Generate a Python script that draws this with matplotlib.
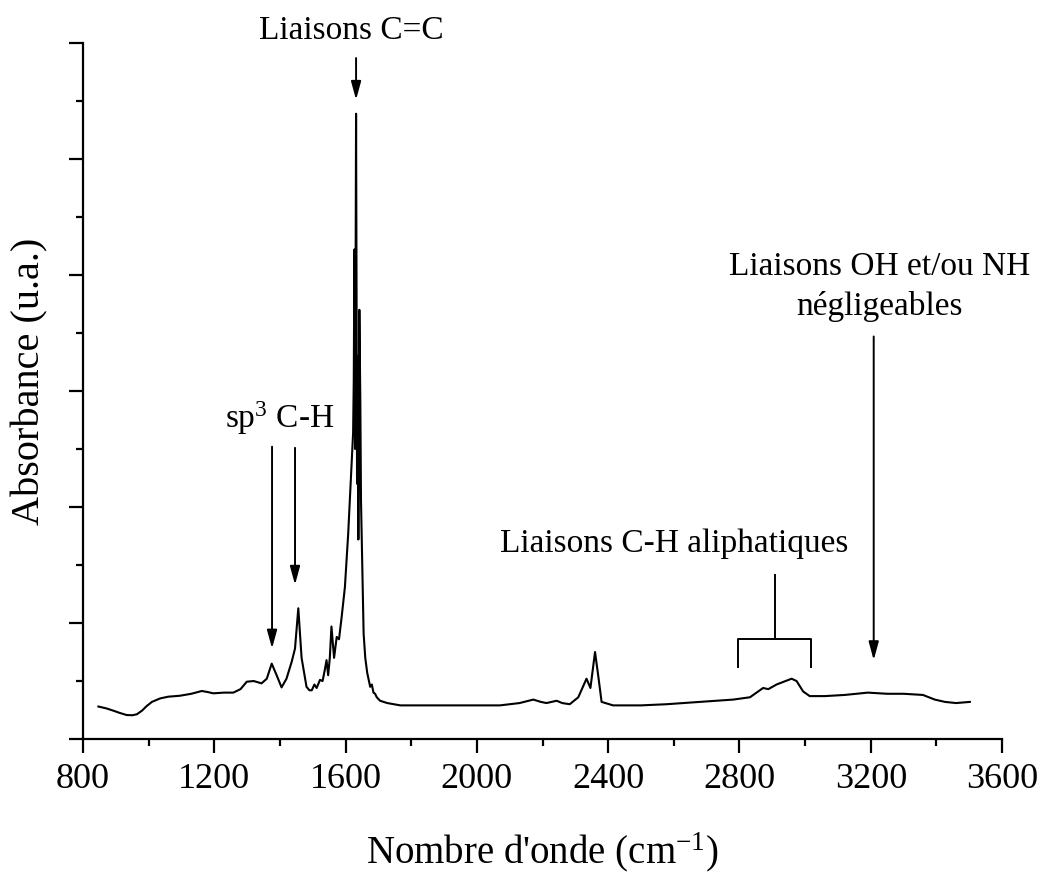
import matplotlib
matplotlib.use("Agg")
import matplotlib.pyplot as plt
from matplotlib.ticker import MultipleLocator, NullFormatter

plt.rcParams['font.family'] = ['Liberation Serif', 'DejaVu Serif']
plt.rcParams['mathtext.fontset'] = 'custom'
plt.rcParams['mathtext.rm'] = 'Liberation Serif'
plt.rcParams['mathtext.it'] = 'Liberation Serif:italic'
plt.rcParams['mathtext.bf'] = 'Liberation Serif:bold'

# Spectrum (wavenumber cm-1, absorbance a.u.)
wavenumber = [847, 870, 892, 912, 933, 950, 964, 980, 994, 1010, 1035, 1060, 1095,
              1130, 1162, 1180, 1197, 1230, 1258, 1280, 1299, 1320, 1344, 1360,
              1375, 1390, 1405, 1420, 1436, 1446, 1456, 1466, 1481, 1490, 1497,
              1505, 1512, 1522, 1530, 1537, 1542, 1547, 1552, 1557, 1565, 1573,
              1580, 1588, 1598, 1608, 1618, 1623, 1625, 1627, 1629, 1632, 1635,
              1637, 1639, 1642, 1645, 1647, 1651, 1655, 1660, 1666, 1675, 1680,
              1685, 1690, 1695, 1705, 1727, 1767, 1850, 1950, 2070, 2130, 2172,
              2195, 2212, 2243, 2260, 2283, 2309, 2334, 2346, 2360, 2370, 2380,
              2415, 2500, 2578, 2679, 2781, 2832, 2872, 2888, 2913, 2959, 2974,
              2994, 3014, 3060, 3121, 3191, 3250, 3300, 3359, 3395, 3426, 3460,
              3502]
absorbance = [0.28, 0.265, 0.245, 0.225, 0.207, 0.205, 0.213, 0.245, 0.284, 0.32,
              0.35, 0.365, 0.373, 0.39, 0.414, 0.405, 0.394, 0.40, 0.40, 0.43,
              0.494, 0.50, 0.48, 0.52, 0.65, 0.55, 0.445, 0.52, 0.667, 0.78,
              1.127, 0.70, 0.45, 0.42, 0.42, 0.47, 0.44, 0.51, 0.50, 0.60,
              0.68, 0.55, 0.70, 0.97, 0.70, 0.88, 0.86, 1.05, 1.31, 1.77,
              2.35, 2.64, 3.1, 4.22, 2.5, 5.39, 2.2, 3.3, 1.72, 3.70, 2.9,
              2.06, 1.48, 0.91, 0.70, 0.57, 0.45, 0.47, 0.40, 0.39, 0.36,
              0.33, 0.31, 0.29, 0.29, 0.29, 0.29, 0.31, 0.34, 0.32, 0.31,
              0.33, 0.31, 0.30, 0.36, 0.52, 0.44, 0.75, 0.54, 0.32, 0.29,
              0.29, 0.30, 0.32, 0.34, 0.36, 0.44, 0.43, 0.47, 0.52, 0.50,
              0.41, 0.37, 0.37, 0.38, 0.40, 0.39, 0.39, 0.38, 0.34, 0.32,
              0.31, 0.32]

x_ticks = [800, 1200, 1600, 2000, 2400, 2800, 3200, 3600]
x_tick_labels = ['800', '1200', '1600', '2000', '2400', '2800', '3200', '3600']

fig = plt.figure(figsize=(10.45, 8.75), dpi=100)
ax = fig.add_axes([0.0794, 0.1554, 0.8795, 0.7955])

ax.plot(wavenumber, absorbance, color='black', lw=1.5)

ax.set_xlim(800, 3600)
ax.set_ylim(0, 6)
ax.set_xticks(x_ticks)
ax.set_xticklabels(x_tick_labels)
ax.xaxis.set_minor_locator(MultipleLocator(200))
ax.yaxis.set_major_locator(MultipleLocator(1))
ax.yaxis.set_minor_locator(MultipleLocator(0.5))
ax.yaxis.set_major_formatter(NullFormatter())

for s in ['top', 'right']:
    ax.spines[s].set_visible(False)
for s in ['left', 'bottom']:
    ax.spines[s].set_linewidth(1.6)

ax.tick_params(which='major', length=10, width=1.6, direction='out', labelsize=26, pad=7)
ax.tick_params(which='minor', length=5, width=1.6, direction='out')

ax.set_xlabel("Nombre d'onde (cm$^{-1}$)", fontsize=28)
ax.set_ylabel("Absorbance (u.a.)", fontsize=29)
ax.xaxis.set_label_coords(0.5, -0.131)
ax.yaxis.set_label_coords(-0.038, 0.514)

arrow_kw = dict(arrowstyle='-|>,head_length=0.55,head_width=0.15', color='black',
                lw=1.4, shrinkA=0, shrinkB=0, mutation_scale=20)

# C=C
ax.text(1619, 6.03, "Liaisons C=C", ha='center', va='baseline', fontsize=24, clip_on=False)
ax.annotate('', xy=(1632, 5.51), xytext=(1632, 5.87), arrowprops=arrow_kw)

# sp3 C-H
ax.text(1400, 2.68, "sp$^3$ C-H", ha='center', va='baseline', fontsize=24)
ax.annotate('', xy=(1376, 0.78), xytext=(1376, 2.52), arrowprops=arrow_kw)
ax.annotate('', xy=(1446, 1.33), xytext=(1446, 2.51), arrowprops=arrow_kw)

# C-H aliphatiques
ax.text(2600, 1.61, "Liaisons C-H aliphatiques", ha='center', va='baseline', fontsize=24)
ax.plot([2908, 2908], [0.86, 1.41], color='black', lw=1.4)
ax.plot([2795, 2795, 3018, 3018], [0.62, 0.86, 0.86, 0.62], color='black', lw=1.4)

# OH / NH
ax.text(3228, 4.00, "Liaisons OH et/ou NH", ha='center', va='baseline', fontsize=24, clip_on=False)
ax.text(3228, 3.655, "négligeables", ha='center', va='baseline', fontsize=24)
ax.annotate('', xy=(3209, 0.68), xytext=(3209, 3.47), arrowprops=arrow_kw)

fig.savefig('out.png', dpi=100)
